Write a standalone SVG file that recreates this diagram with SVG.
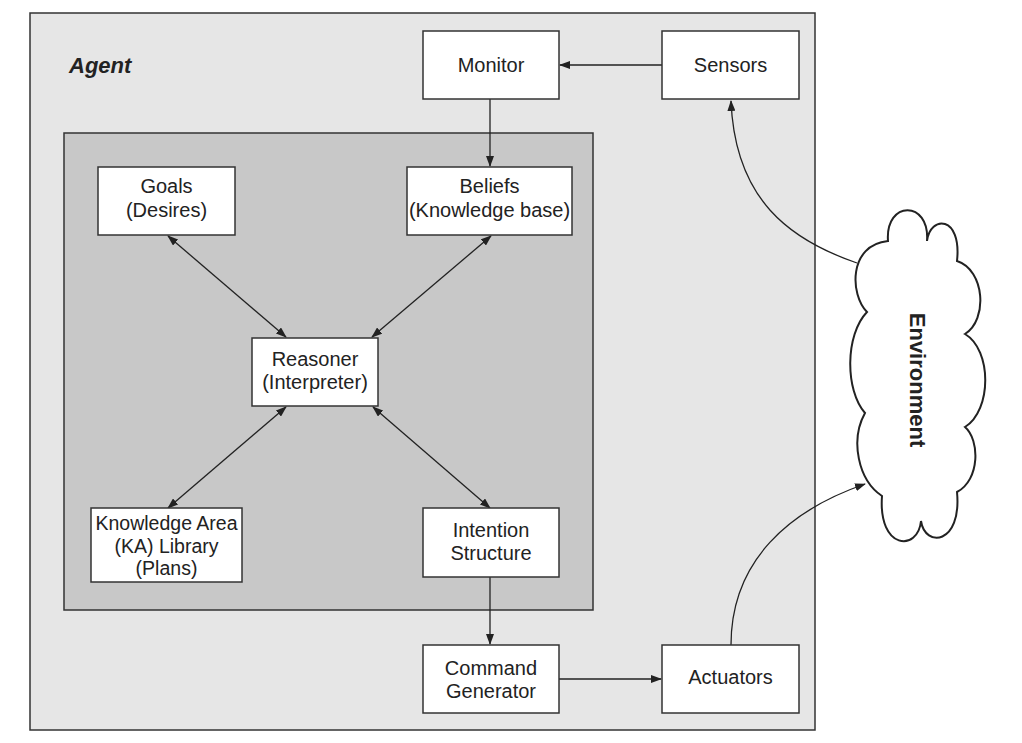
<svg xmlns="http://www.w3.org/2000/svg" width="1022" height="743" viewBox="0 0 1022 743">
<style>
.box{fill:#fff;stroke:#333;stroke-width:1.5}
.t{font-family:"Liberation Sans",Arial,sans-serif;font-size:20px;fill:#222;text-anchor:middle}
.c{fill:none;stroke:#222;stroke-width:1.3}
</style>
<defs>
<marker id="ah" markerUnits="userSpaceOnUse" markerWidth="11" markerHeight="8" refX="10" refY="4" orient="auto-start-reverse">
<path d="M0,0 L11,4 L0,8 z" fill="#222"/>
</marker>
</defs>
<rect width="1022" height="743" fill="#fff"/>
<g id="agent">
<rect x="30" y="13" width="785" height="717" fill="#e6e6e6" stroke="#333" stroke-width="1.5"/>
<text x="69" y="73" style="font-family:'Liberation Sans',Arial,sans-serif;font-size:22px;font-weight:bold;font-style:italic;fill:#222">Agent</text>
</g>
<g id="core">
<rect x="64" y="133" width="529" height="477" fill="#c8c8c8" stroke="#333" stroke-width="1.5"/>
</g>
<g id="connectors">
<path class="c" d="M662,65 L560,65" marker-end="url(#ah)"/>
<path class="c" d="M490,99 L490,166" marker-end="url(#ah)"/>
<path class="c" d="M168,236 L286,337" marker-start="url(#ah)" marker-end="url(#ah)"/>
<path class="c" d="M491,236 L372,337" marker-start="url(#ah)" marker-end="url(#ah)"/>
<path class="c" d="M286,407 L168,508" marker-start="url(#ah)" marker-end="url(#ah)"/>
<path class="c" d="M373,407 L490,508" marker-start="url(#ah)" marker-end="url(#ah)"/>
<path class="c" d="M490,577 L490,644" marker-end="url(#ah)"/>
<path class="c" d="M559,679 L661,679" marker-end="url(#ah)"/>
<path class="c" d="M857,263 C790,240 735,200 731,101" marker-end="url(#ah)"/>
<path class="c" d="M731,645 C731,560 790,510 865,484" marker-end="url(#ah)"/>
</g>
<g id="monitor"><rect class="box" x="423" y="31" width="136" height="68"/><text class="t" x="491" y="72">Monitor</text></g>
<g id="sensors"><rect class="box" x="662" y="31" width="137" height="68"/><text class="t" x="730.5" y="72">Sensors</text></g>
<g id="goals"><rect class="box" x="98" y="167" width="137" height="68"/><text class="t" x="166.5" y="193">Goals</text><text class="t" x="166.5" y="217">(Desires)</text></g>
<g id="beliefs"><rect class="box" x="407" y="167" width="165" height="68"/><text class="t" x="489.5" y="193">Beliefs</text><text class="t" x="489.5" y="217">(Knowledge base)</text></g>
<g id="reasoner"><rect class="box" x="252" y="338" width="126" height="68"/><text class="t" x="315" y="366">Reasoner</text><text class="t" x="315" y="389">(Interpreter)</text></g>
<g id="ka"><rect class="box" x="91" y="508" width="151" height="74"/><text class="t" x="166.5" y="530" style="font-size:19.5px">Knowledge Area</text><text class="t" x="166.5" y="553" style="font-size:19.5px">(KA) Library</text><text class="t" x="166.5" y="575" style="font-size:19.5px">(Plans)</text></g>
<g id="intention"><rect class="box" x="423" y="508" width="136" height="69"/><text class="t" x="491" y="537">Intention</text><text class="t" x="491" y="560">Structure</text></g>
<g id="command"><rect class="box" x="423" y="645" width="136" height="68"/><text class="t" x="491" y="675">Command</text><text class="t" x="491" y="698">Generator</text></g>
<g id="actuators"><rect class="box" x="662" y="645" width="137" height="68"/><text class="t" x="730.5" y="684">Actuators</text></g>
<g id="environment">
<path d="M888,241 C885,200 930,200 927,241 C930,215 962,215 957,261 C985,270 988,320 965,334 C992,350 992,410 965,427 C980,440 980,480 957,492 C962,545 925,548 921,521 C918,552 878,550 882,496 C858,480 850,440 865,413 C845,390 845,335 867,312 C850,295 848,245 888,241 Z" fill="#fff" stroke="#222" stroke-width="2"/>
<text x="0" y="0" transform="translate(910,380) rotate(90)" style="font-family:'Liberation Sans',Arial,sans-serif;font-size:22px;font-weight:bold;fill:#222;text-anchor:middle">Environment</text>
</g>
</svg>
